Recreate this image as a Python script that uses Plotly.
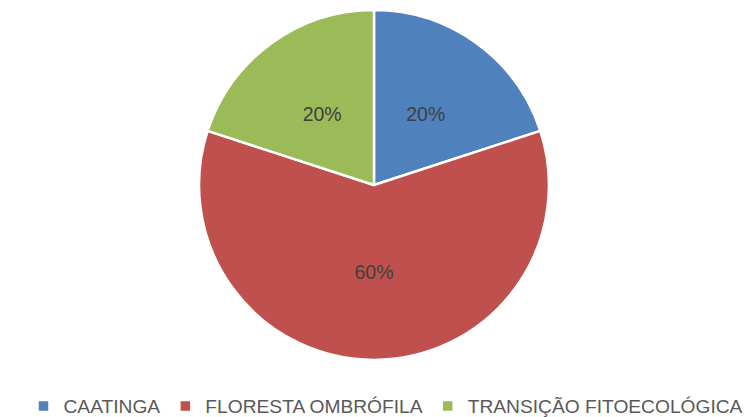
import plotly.graph_objects as go

categories = ["CAATINGA", "FLORESTA OMBRÓFILA", "TRANSIÇÃO FITOECOLÓGICA"]
values = [20, 60, 20]
colors = ["#4F81BD", "#C0504D", "#9BBB59"]

FONT = "Liberation Sans, Arial, sans-serif"

cx, cy = 0.4841, 0.5756
wx, wy = 0.4630, 0.8390
dom_main = dict(x=[cx - wx / 2, cx + wx / 2], y=[cy - wy / 2, cy + wy / 2])
k = 0.8
dom_small = dict(x=[cx - wx * k / 2, cx + wx * k / 2], y=[cy - wy * k / 2, cy + wy * k / 2])

big_only = ["%{percent}" if v >= 50 else "" for v in values]
small_only = ["%{percent}" if v < 50 else "" for v in values]

fig = go.Figure()
fig.add_trace(go.Pie(
    labels=categories,
    values=values,
    sort=False,
    direction="clockwise",
    rotation=0,
    marker=dict(colors=colors, line=dict(color="white", width=2.5)),
    texttemplate=big_only,
    textposition="inside",
    insidetextorientation="horizontal",
    textfont=dict(family=FONT, size=19.5, color="#404040"),
    domain=dom_main,
))
fig.add_trace(go.Pie(
    labels=categories,
    values=values,
    sort=False,
    direction="clockwise",
    rotation=0,
    marker=dict(colors=["rgba(0,0,0,0)"] * 3, line=dict(width=0)),
    texttemplate=small_only,
    textposition="inside",
    insidetextorientation="horizontal",
    textfont=dict(family=FONT, size=19.5, color="#404040"),
    domain=dom_small,
    showlegend=False,
    hoverinfo="skip",
))

fig.update_layout(
    width=756, height=417,
    margin=dict(l=0, r=0, t=0, b=0),
    paper_bgcolor="white",
    showlegend=True,
    legend=dict(
        orientation="h", x=0.5, xanchor="center", y=0.0, yanchor="bottom",
        font=dict(family=FONT, size=19.2, color="#595959"),
        itemwidth=30,
    ),
)

fig.write_html("out.html")
